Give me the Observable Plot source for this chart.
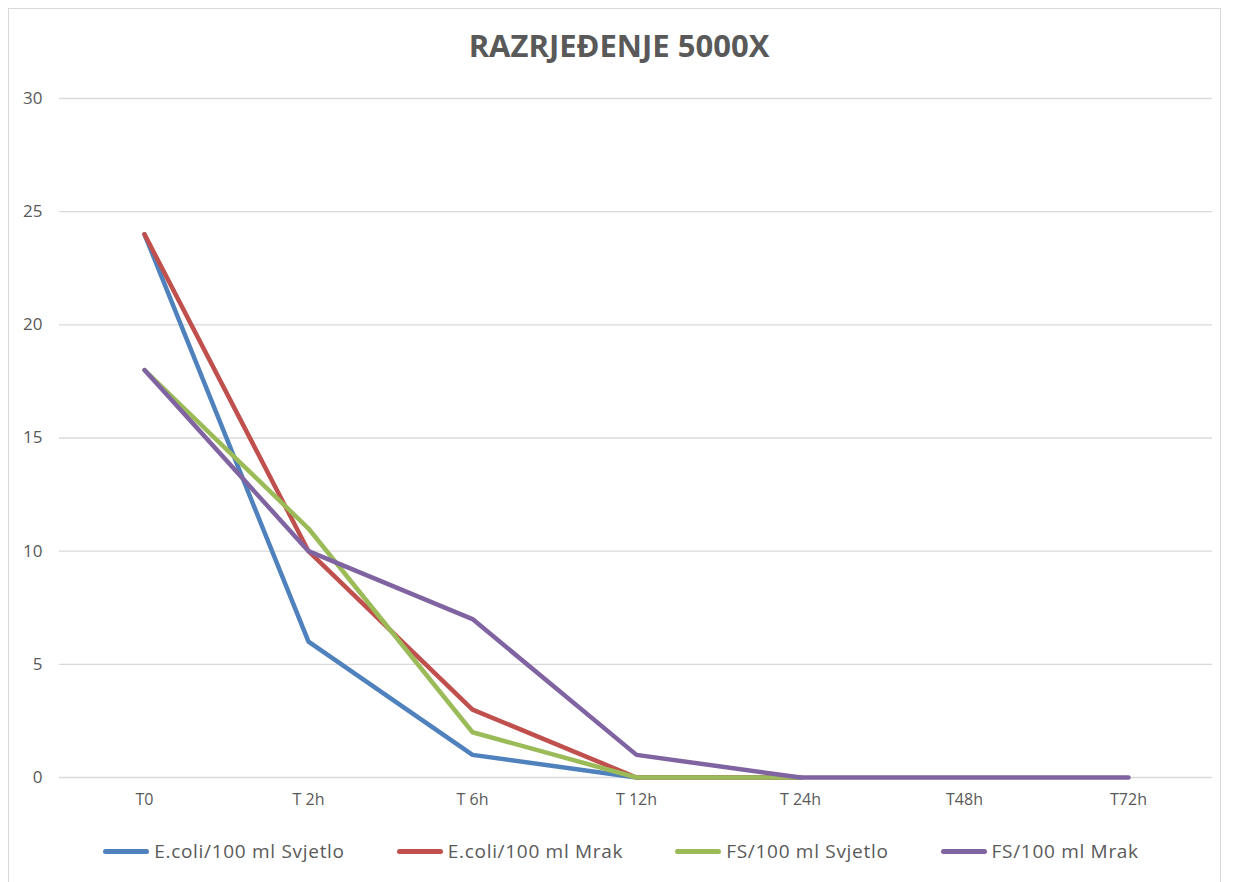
<!DOCTYPE html>
<html>
<head>
<meta charset="utf-8">
<script src="https://cdn.jsdelivr.net/npm/d3@7"></script>
<script src="https://cdn.jsdelivr.net/npm/@observablehq/plot@0.6"></script>
<style>
  html, body { margin: 0; padding: 0; background: #fff; }
  #wrap { position: relative; width: 1234px; height: 882px; overflow: hidden; font-family: "Open Sans", sans-serif; }
  #frame { position: absolute; left: 8px; top: 8px; width: 1213px; height: 890px; border: 1px solid #d9d9d9; box-sizing: border-box; }
  #title { position: absolute; left: 0; top: 25px; width: 1234px; text-align: center; font-weight: 700; font-size: 31px; line-height: 40px; color: #595959; padding-left: 4px; box-sizing: border-box; }
  #chart { position: absolute; left: 0; top: 85px; }
  #legend { position: absolute; left: 0; top: 838px; width: 1234px; display: flex; justify-content: center; gap: 52px; font-size: 19px; letter-spacing: 0.7px; color: #595959; padding-left: 8px; box-sizing: border-box; }
  .item { display: flex; align-items: center; }
  .sw { width: 46px; height: 5px; border-radius: 3px; margin-right: 5px; }
</style>
</head>
<body>
<div id="wrap">
  <div id="frame"></div>
  <div id="title">RAZRJEĐENJE 5000X</div>
  <div id="chart"></div>
  <div id="legend"></div>
</div>
<script>
const categories = ["T0", "T 2h", "T 6h", "T 12h", "T 24h", "T48h", "T72h"];
const seriesNames = ["E.coli/100 ml Svjetlo", "E.coli/100 ml Mrak", "FS/100 ml Svjetlo", "FS/100 ml Mrak"];
const ecoliSvjetlo = [24, 6, 1, 0, 0];
const ecoliMrak = [24, 10, 3, 0, 0];
const fsSvjetlo = [18, 11, 2, 0, 0];
const fsMrak = [18, 10, 7, 1, 0, 0, 0];
const colors = ["#4F81BD", "#C0504D", "#9BBB59", "#8064A2"];
const yTicks = [0, 5, 10, 15, 20, 25, 30];

const seriesValues = [ecoliSvjetlo, ecoliMrak, fsSvjetlo, fsMrak];
const data = [];
seriesValues.forEach((vals, s) => {
  vals.forEach((v, i) => data.push({series: seriesNames[s], cat: categories[i], value: v}));
});

const chart = Plot.plot({
  width: 1234,
  height: 740,
  marginLeft: 59,
  marginRight: 22,
  marginTop: 13,
  marginBottom: 48,
  style: {fontFamily: "Open Sans, sans-serif", color: "#595959", background: "transparent"},
  x: {type: "point", domain: categories, padding: 0.5, label: null},
  y: {domain: [0, 30], ticks: yTicks, label: null},
  color: {domain: seriesNames, range: colors},
  marks: [
    Plot.ruleY(yTicks, {stroke: "#d9d9d9", strokeWidth: 1.3}),
    Plot.axisY({ticks: yTicks, tickSize: 0, tickPadding: 17, fontSize: 17, fill: "#595959", label: null}),
    Plot.axisX({tickSize: 0, tickPadding: 16, fontSize: 16, fill: "#595959", label: null}),
    Plot.line(data, {x: "cat", y: "value", z: "series", stroke: "series", strokeWidth: 4.5, strokeLinecap: "round", strokeLinejoin: "round"})
  ]
});
document.getElementById("chart").appendChild(chart);

const legend = document.getElementById("legend");
seriesNames.forEach((name, i) => {
  const item = document.createElement("div");
  item.className = "item";
  const sw = document.createElement("div");
  sw.className = "sw";
  sw.style.background = colors[i];
  const t = document.createElement("span");
  t.textContent = name;
  item.appendChild(sw);
  item.appendChild(t);
  legend.appendChild(item);
});
</script>
</body>
</html>
